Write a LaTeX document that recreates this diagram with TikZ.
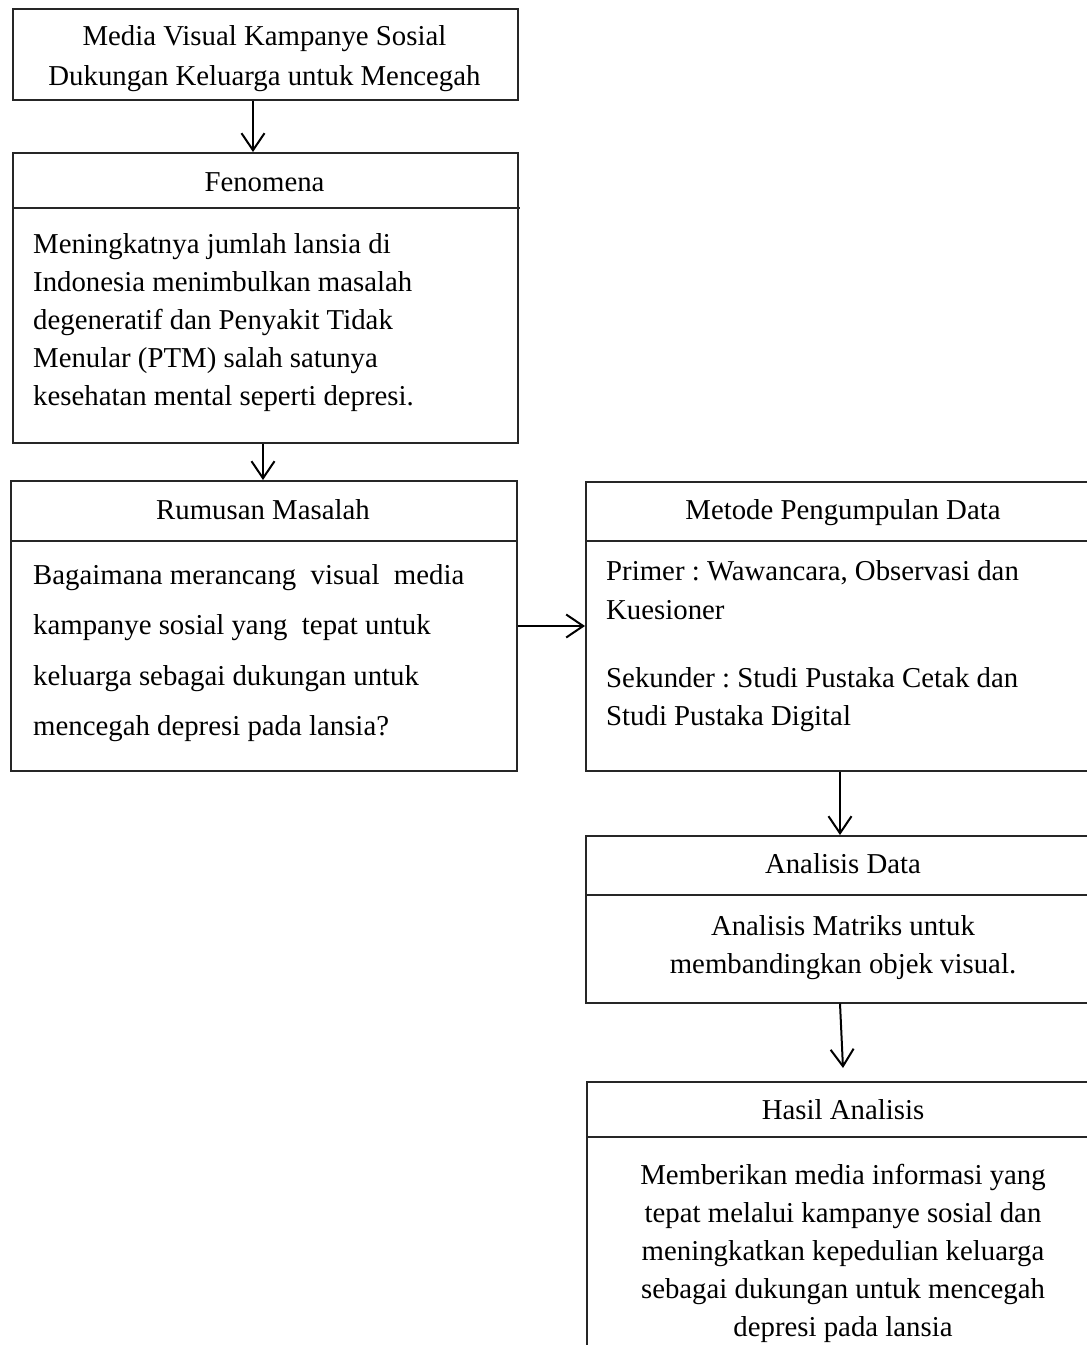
\documentclass[tikz,border=0pt]{standalone}
\usepackage{fontspec}
\setmainfont{Liberation Serif}
\usetikzlibrary{arrows.meta}
\frenchspacing
\tikzset{
  box/.style={draw=black!85, line width=1.5pt, rectangle, inner sep=0pt, anchor=north west},
  divider/.style={draw=black!85, line width=1.5pt},
  txt/.style={inner sep=0pt, font=\fontsize{28.8}{38}\selectfont},
  ttl/.style={txt, anchor=base},
  lft/.style={txt, anchor=base west},
  arr/.style={draw=black, line width=2pt, -{Straight Barb[length=17pt,width=23pt,line width=2pt]}},
}
\begin{document}
\begin{tikzpicture}[x=1pt,y=-1pt]
\useasboundingbox (0,0) rectangle (1087,1345);
\clip (0,0) rectangle (1087,1345);
% boxes
\node[box, minimum width=505, minimum height=91] (b1) at (12,8) {};
\node[box, minimum width=505, minimum height=290] (b2) at (12,152) {};
\node[box, minimum width=506, minimum height=290] (b3) at (10,480) {};
\node[box, minimum width=515, minimum height=289] (b4) at (585,481) {};
\node[box, minimum width=515, minimum height=167] (b5) at (585,835) {};
\node[box, minimum width=514, minimum height=330] (b6) at (586,1081) {};
% dividers
\draw[divider] (12,208) -- (520,208);
\draw[divider] (10,541) -- (518,541);
\draw[divider] (585,541) -- (1100,541);
\draw[divider] (585,895) -- (1100,895);
\draw[divider] (586,1137) -- (1100,1137);
% top box
\node[ttl] (t1a) at (264.5,45) {Media Visual Kampanye Sosial};
\node[ttl] (t1b) at (264.5,85) {Dukungan Keluarga untuk Mencegah};
% Fenomena
\node[ttl] (t2) at (264.5,191) {Fenomena};
\node[lft] (f1) at (33,253) {Meningkatnya jumlah lansia di};
\node[lft] (f2) at (33,291) {Indonesia menimbulkan masalah};
\node[lft] (f3) at (33,329) {degeneratif dan Penyakit Tidak};
\node[lft] (f4) at (33,367) {Menular (PTM) salah satunya};
\node[lft] (f5) at (33,405) {kesehatan mental seperti depresi.};
% Rumusan
\node[ttl] (t3) at (263,519) {Rumusan Masalah};
\node[lft] (r1) at (33,584) {Bagaimana merancang\ \ visual\ \ media};
\node[lft] (r2) at (33,634) {kampanye sosial yang\ \ tepat untuk};
\node[lft] (r3) at (33,685) {keluarga sebagai dukungan untuk};
\node[lft] (r4) at (33,735) {mencegah depresi pada lansia?};
% Metode
\node[ttl] (t4) at (843,519) {Metode Pengumpulan Data};
\node[lft] (m1) at (606,580) {Primer : Wawancara, Observasi dan};
\node[lft] (m2) at (606,619) {Kuesioner};
\node[lft] (m3) at (606,687) {Sekunder : Studi Pustaka Cetak dan};
\node[lft] (m4) at (606,725) {Studi Pustaka Digital};
% Analisis
\node[ttl] (t5) at (843,873) {Analisis Data};
\node[ttl] (a1) at (843,935) {Analisis Matriks untuk};
\node[ttl] (a2) at (843,973) {membandingkan objek visual.};
% Hasil
\node[ttl] (t6) at (843,1119) {Hasil Analisis};
\node[ttl] (h1) at (843,1184) {Memberikan media informasi yang};
\node[ttl] (h2) at (843,1222) {tepat melalui kampanye sosial dan};
\node[ttl] (h3) at (843,1260) {meningkatkan kepedulian keluarga};
\node[ttl] (h4) at (843,1298) {sebagai dukungan untuk mencegah};
\node[ttl] (h5) at (843,1336) {depresi pada lansia};
% arrows
\draw[arr] (b1.south -| 253,0) -- (b2.north -| 253,0);
\draw[arr] (b2.south -| 263,0) -- (b3.north -| 263,0);
\draw[arr] (b3.east |- 0,626) -- (b4.west |- 0,626);
\draw[arr] (b4.south -| 840,0) -- (b5.north -| 840,0);
\draw[arr] (b5.south -| 840,0) -- ([yshift=13pt]b6.north -| 843,0);
\end{tikzpicture}
\end{document}
